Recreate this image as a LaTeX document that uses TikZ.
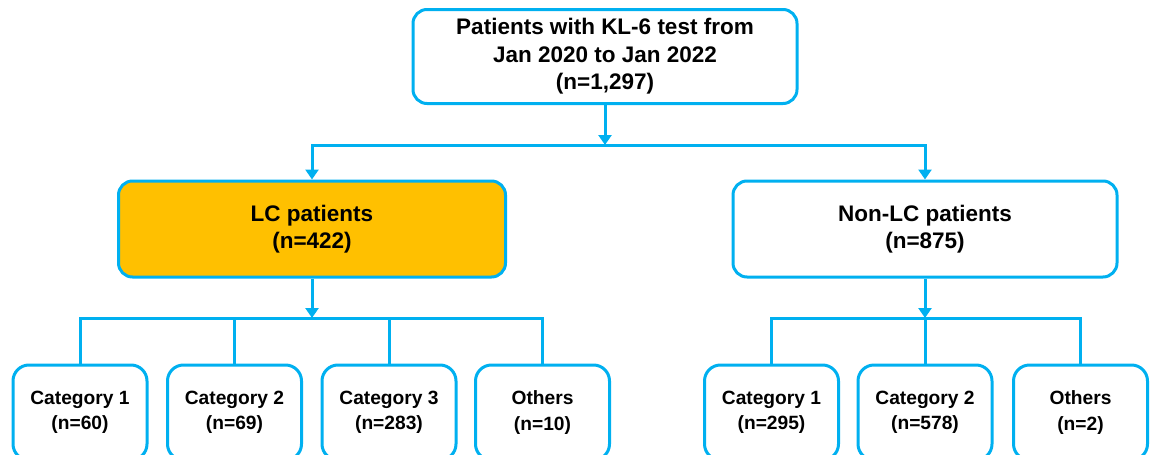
\documentclass[tikz,border=0pt]{standalone}
\usepackage{fontspec}
\setmainfont{Liberation Sans}
\usepackage{xcolor}
\usetikzlibrary{arrows.meta, positioning}

\definecolor{lineblue}{HTML}{00B0F0}
\definecolor{lcorange}{HTML}{FFC000}

\tikzset{
	box/.style = {draw = lineblue, line width = 1.5pt, rounded corners = 7pt, fill = white, align = center, inner sep = 0pt, minimum width = 192pt, minimum height = 47pt, font = \bfseries\fontsize{11.25}{13.8}\selectfont},
	catbox/.style = {box, rounded corners = 8pt, minimum width = 67pt, minimum height = 47.5pt, font = \bfseries\fontsize{9.6}{12.6}\selectfont},
	link/.style = {draw = lineblue, line width = 1.5pt},
	tip/.style = {link, -{Triangle[width = 6.5pt, length = 5pt]}},
	twotip/.style = {link, {Triangle[width = 6.5pt, length = 5pt]}-{Triangle[width = 6.5pt, length = 5pt]}}
}

\begin{document}
\begin{tikzpicture}[x = 0.5pt, y = -0.5pt]
					\def\ySplit{145};
					\def\yCat{412.5};

					\useasboundingbox (0,0) rectangle (1151,455);

					% first two levels
					\node [box] (all) at (605,56.5) {Patients with KL-6 test from\\Jan 2020 to Jan 2022\\(n=1,297)};
					\node [box, fill = lcorange, minimum width = 193.5pt, minimum height = 48pt] (lc) at (312,229) {LC patients\\(n=422)};
					\node [box, minimum height = 48pt] (nonlc) at (925,229) {Non-LC patients\\(n=875)};
					\coordinate (split) at (605,\ySplit);
					\coordinate (lcsplit) at (312,318);
					\coordinate (nonlcsplit) at (925,318);

					% categories
					\node [catbox] (lcA) at (80,\yCat) {Category 1\\(n=60)};
					\node [catbox] (lcB) at (234.5,\yCat) {Category 2\\(n=69)};
					\node [catbox] (lcC) at (389,\yCat) {Category 3\\(n=283)};
					\node [catbox] (lcD) at (542.5,\yCat) {Others\\(n=10)};
					\node [catbox] (nonlcA) at (771.5,\yCat) {Category 1\\(n=295)};
					\node [catbox] (nonlcB) at (925,\yCat) {Category 2\\(n=578)};
					\node [catbox] (nonlcC) at (1080.5,\yCat) {Others\\(n=2)};

					\begin{scope}
						\draw [tip] (all) -- (split);
						\draw [twotip] (lc.north) -- (lc.north |- split) -- (nonlc.north |- split) -- (nonlc.north);
					\end{scope}

					\begin{scope}
						\draw [tip] (lc) -- (lcsplit);
						\draw [link] (lcA.north) -- (lcA.north |- lcsplit) -- (lcD.north |- lcsplit) -- (lcD.north);
						\draw [link] (lcB.north) -- (lcB.north |- lcsplit);
						\draw [link] (lcC.north) -- (lcC.north |- lcsplit);

						\draw [tip] (nonlc) -- (nonlcsplit);
						\draw [link] (nonlcA.north) -- (nonlcA.north |- nonlcsplit) -- (nonlcC.north |- nonlcsplit) -- (nonlcC.north);
						\draw [link] (nonlcB.north) -- (nonlcB.north |- nonlcsplit);
					\end{scope}
				\end{tikzpicture}
\end{document}
